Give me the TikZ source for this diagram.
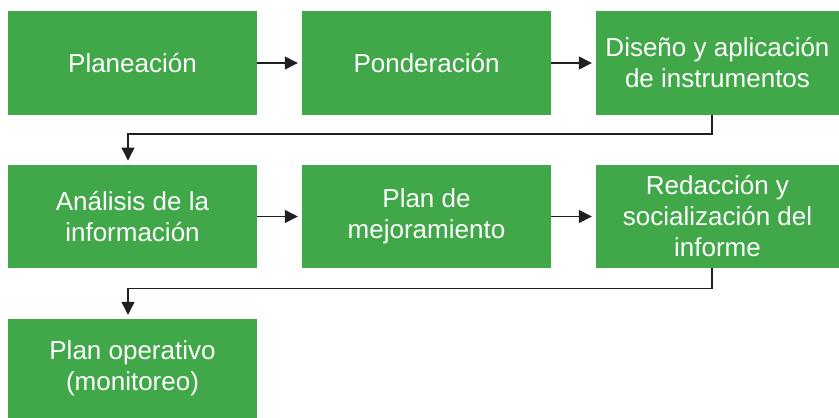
\documentclass[tikz,border=0pt]{standalone}
\usepackage{fontspec}
\setmainfont{Liberation Sans}
\usetikzlibrary{arrows.meta}
\definecolor{stepgreen}{RGB}{65,168,74}
\definecolor{arrowgray}{RGB}{35,31,32}
\tikzstyle{node_step} = [rectangle, fill=stepgreen, text=white, inner sep=0pt, minimum width=249pt, minimum height=103.5pt, align=center, font=\fontsize{26}{31}\selectfont]
\tikzstyle{node_last} = [node_step, minimum width=243pt]
\tikzstyle{edge_arrow} = [draw=arrowgray, line width=1.4pt, -{Triangle[length=13pt,width=13pt]}, shorten >=4pt]
\tikzstyle{edge_elbow} = [edge_arrow, line width=1.1pt]

\begin{document}
\begin{tikzpicture}[x=1pt, y=-1pt]
		\useasboundingbox (0,0) rectangle (839,418);
		\def\ca{132.5}
		\def\cb{426.5}
		\def\cc{717.5}
		\node (A) at (\ca,63) [node_step] {Planeación};
		\node (B) at (\cb,63) [node_step] {Ponderación};
		\node (C) at (\cc,63) [node_last] {Diseño y aplicación\\de instrumentos};
		\node (D) at (\ca,216.5) [node_step] {Análisis de la\\información};
		\node (E) at (\cb,216.5) [node_step] {Plan de\\mejoramiento};
		\node (F) at (\cc,216.5) [node_last] {Redacción y\\socialización del\\informe};
		\node (G) at (\ca,368.5) [node_step, minimum height=99pt] {Plan operativo\\(monitoreo)};
		
		\draw[edge_arrow] (A)--(B);
		\draw[edge_arrow] (B)--(C);
		\draw[edge_elbow] ([xshift=-5.5pt]C.south) -- ++(0,19) -| ([xshift=-4.5pt]D.north);
		\draw[edge_arrow] (D)--(E);
		\draw[edge_arrow] (E)--(F);
		\draw[edge_elbow] ([xshift=-5.5pt]F.south) -- ++(0,20) -| ([xshift=-4.5pt]G.north);
\end{tikzpicture}
\end{document}
